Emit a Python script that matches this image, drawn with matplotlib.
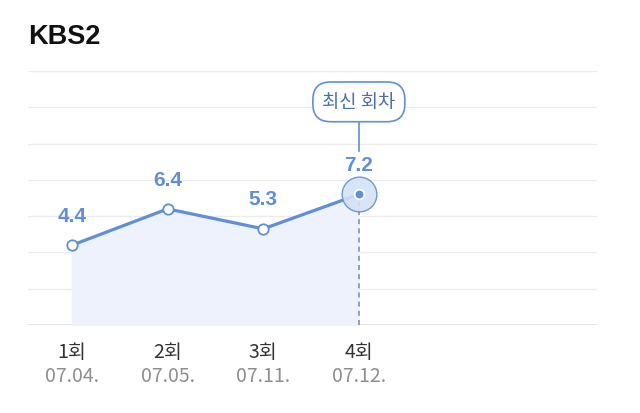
import matplotlib
matplotlib.use("Agg")
import matplotlib.pyplot as plt

plt.rcParams['font.family'] = ['Noto Sans CJK KR', 'DejaVu Sans']

episodes = ["1회", "2회", "3회", "4회"]
dates = ["07.04.", "07.05.", "07.11.", "07.12."]
ratings = [4.4, 6.4, 5.3, 7.2]
title = "KBS2"
badge = "최신 회차"

blue = "#5f8fd8"
fill = "#eef2fc"
grid = "#ececef"

fig = plt.figure(figsize=(6.4, 4.14), dpi=100)
ax = fig.add_axes([28/640, 1 - 326/414, (597 - 28)/640, 254/414])
xs = list(range(len(ratings)))

ax.set_xlim(-0.46, 5.49)
ax.set_ylim(0, 14)
for g in range(2, 15, 2):
    ax.axhline(g, color=grid, lw=1.0, zorder=0)
ax.axhline(0, color="#dfe0e4", lw=1.2, zorder=0)

ax.fill_between(xs, ratings, 0, color=fill, zorder=1)
ax.plot(xs, ratings, color=blue, lw=2.3, zorder=3)
ax.plot(xs[:-1], ratings[:-1], 'o', ms=7.5, mfc="white", mec=blue, mew=1.3, zorder=4)

# latest point highlight
last = xs[-1]
ax.plot([last, last], [0, ratings[-1]], color="#7d93b8", lw=1.2, ls=(0, (3, 2.5)), zorder=2)
ax.plot(last, ratings[-1], 'o', ms=25, mfc="#d4e1f7", mec=blue, mew=1.0, alpha=0.9, zorder=4)
ax.plot(last, ratings[-1], 'o', ms=7, mfc=blue, mec="white", mew=1.3, zorder=5)

for x, v in zip(xs, ratings):
    ax.annotate(f"{v}", (x, v), xytext=(0, 21.5), textcoords="offset points",
                ha="center", va="center", fontsize=15, fontweight="bold", color=blue,
                family="Liberation Sans", zorder=6)

# badge
ax.plot([last, last], [9.6, 11.5], color=blue, lw=1.2, zorder=6, clip_on=False)
ax.text(last, 12.3, badge, ha="center", va="center", fontsize=13.5, color="#4a6fa8",
        bbox=dict(boxstyle="round,pad=0.5,rounding_size=0.95", fc="white", ec=blue, lw=1.2),
        zorder=7)

ax.set_xticks(xs)
ax.set_xticklabels([])
ax.tick_params(length=0)
ax.set_yticks([])
for x, ep, d in zip(xs, episodes, dates):
    ax.text(x, -1.45, ep, ha="center", va="center", fontsize=14, color="#333333")
    ax.text(x, -2.8, d, ha="center", va="center", fontsize=14, color="#8e8e8e")

for s in ax.spines.values():
    s.set_visible(False)

fig.text(28/640, 1 - 37/414, title, ha="left", va="center", fontsize=19.5,
         fontweight="bold", color="#111111", family="Liberation Sans")

fig.savefig("out.png", dpi=100, facecolor="white")
